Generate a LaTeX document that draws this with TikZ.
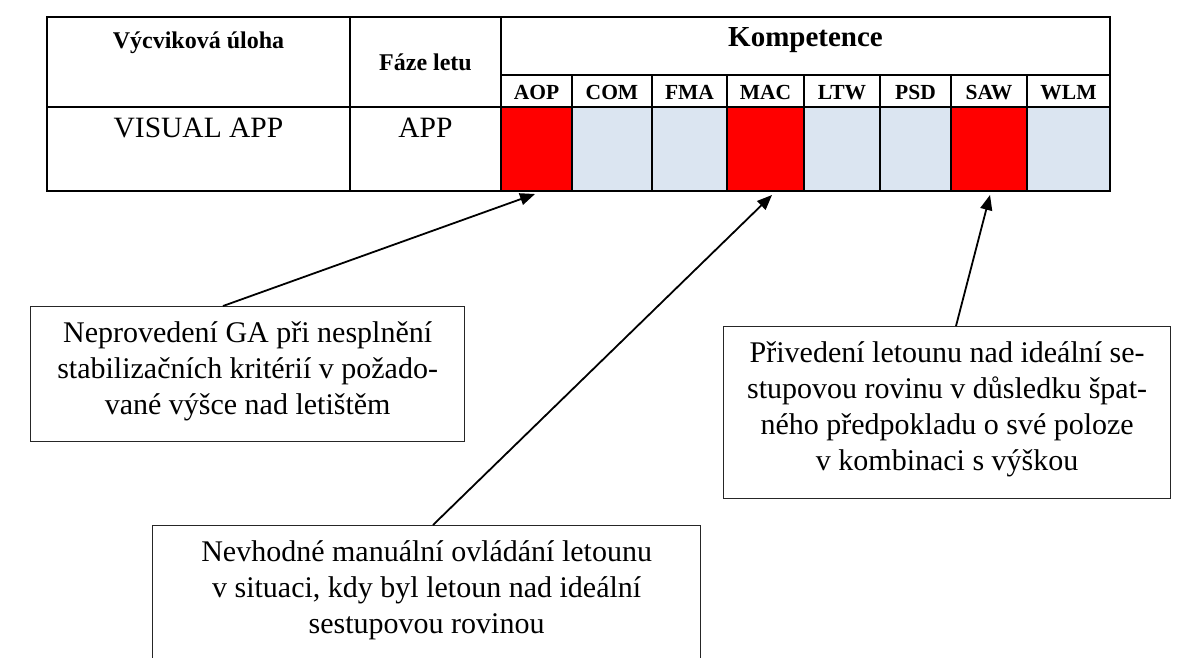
\documentclass[tikz,border=0pt]{standalone}
\usepackage{fontspec}
\setmainfont{Liberation Serif}
\usetikzlibrary{arrows.meta,calc}
\definecolor{cellred}{HTML}{FF0000}
\definecolor{cellblue}{HTML}{DBE5F1}
\begin{document}
\begin{tikzpicture}[x=1pt,y=-1pt,
  gridline/.style={line width=2.2pt,black},
  hdr/.style={font=\fontsize{24}{28}\selectfont\bfseries,inner sep=0pt,anchor=base},
  sublbl/.style={font=\fontsize{21.5}{25}\selectfont\bfseries,inner sep=0pt,anchor=base},
  bodytxt/.style={font=\fontsize{29.5}{34}\selectfont,inner sep=0pt,anchor=base},
  notebox/.style={draw=black!85,line width=1.3pt,inner sep=0pt,anchor=north west},
  notetext/.style={font=\fontsize{30}{36}\selectfont,align=center,inner sep=0pt,anchor=north},
  link/.style={line width=1.8pt,-{Triangle[length=15pt,width=12pt]}}]
\useasboundingbox (0,0) rectangle (1186,657);

% competence cells
\fill[cellred]  (501,107) rectangle (572,191);
\fill[cellblue] (572,107) rectangle (652,191);
\fill[cellblue] (652,107) rectangle (727,191);
\fill[cellred]  (727,107) rectangle (804,191);
\fill[cellblue] (804,107) rectangle (880,191);
\fill[cellblue] (880,107) rectangle (951,191);
\fill[cellred]  (951,107) rectangle (1027,191);
\fill[cellblue] (1027,107) rectangle (1110,191);

% table rules
\draw[gridline] (47,17) rectangle (1110,191);
\draw[gridline] (350,17) -- (350,191);
\draw[gridline] (501,17) -- (501,191);
\draw[gridline] (47,107) -- (1110,107);
\draw[gridline] (501,75) -- (1110,75);
\foreach \x in {572,652,727,804,880,951,1027}
  \draw[gridline] (\x,75) -- (\x,191);

% header texts
\node[hdr] (hTask) at (198.5,48) {Výcviková úloha};
\node[hdr] (hPhase) at (425.5,70) {Fáze letu};
\node[font=\fontsize{29}{34}\selectfont\bfseries,inner sep=0pt,anchor=base] (hComp) at (805.5,46) {Kompetence};
\node[sublbl] (lAOP) at (536.5,99) {AOP};
\node[sublbl] (lCOM) at (612,99) {COM};
\node[sublbl] (lFMA) at (689.5,99) {FMA};
\node[sublbl] (lMAC) at (765.5,99) {MAC};
\node[sublbl] (lLTW) at (842,99) {LTW};
\node[sublbl] (lPSD) at (915.5,99) {PSD};
\node[sublbl] (lSAW) at (989,99) {SAW};
\node[sublbl] (lWLM) at (1068.5,99) {WLM};

% data row
\node[bodytxt] (task) at (198.5,137) {VISUAL APP};
\node[bodytxt] (phase) at (425.5,137) {APP};

% note boxes (text set from the top of each box)
\node[notebox,minimum width=434pt,minimum height=135pt] (b1) at (30,306) {};
\node[notetext] (b1t) at ($(b1.north)+(0,15)$)
  {Neprovedení GA při nesplnění\\stabilizačních kritérií v požado-\\vané výšce nad letištěm};
\node[notebox,minimum width=548pt,minimum height=170pt] (b2) at (152,525) {};
\node[notetext] (b2t) at ($(b2.north)+(0,15)$)
  {Nevhodné manuální ovládání letounu\\v situaci, kdy byl letoun nad ideální\\sestupovou rovinou};
\node[notebox,minimum width=447pt,minimum height=172pt] (b3) at (723,326) {};
\node[notetext] (b3t) at ($(b3.north)+(0,15)$)
  {Přivedení letounu nad ideální se-\\stupovou rovinu v důsledku špat-\\ného předpokladu o své poloze\\v kombinaci s výškou};

% arrow targets just below the marked cells
\coordinate (tAOP) at (535,194);
\coordinate (tMAC) at (772,195);
\coordinate (tSAW) at (990,195);

\draw[link] ($(b1.north west)+(193,0)$) -- (tAOP);
\draw[link] ($(b2.north west)+(281,0)$) -- (tMAC);
\draw[link] ($(b3.north west)+(233,0)$) -- (tSAW);
\end{tikzpicture}
\end{document}
